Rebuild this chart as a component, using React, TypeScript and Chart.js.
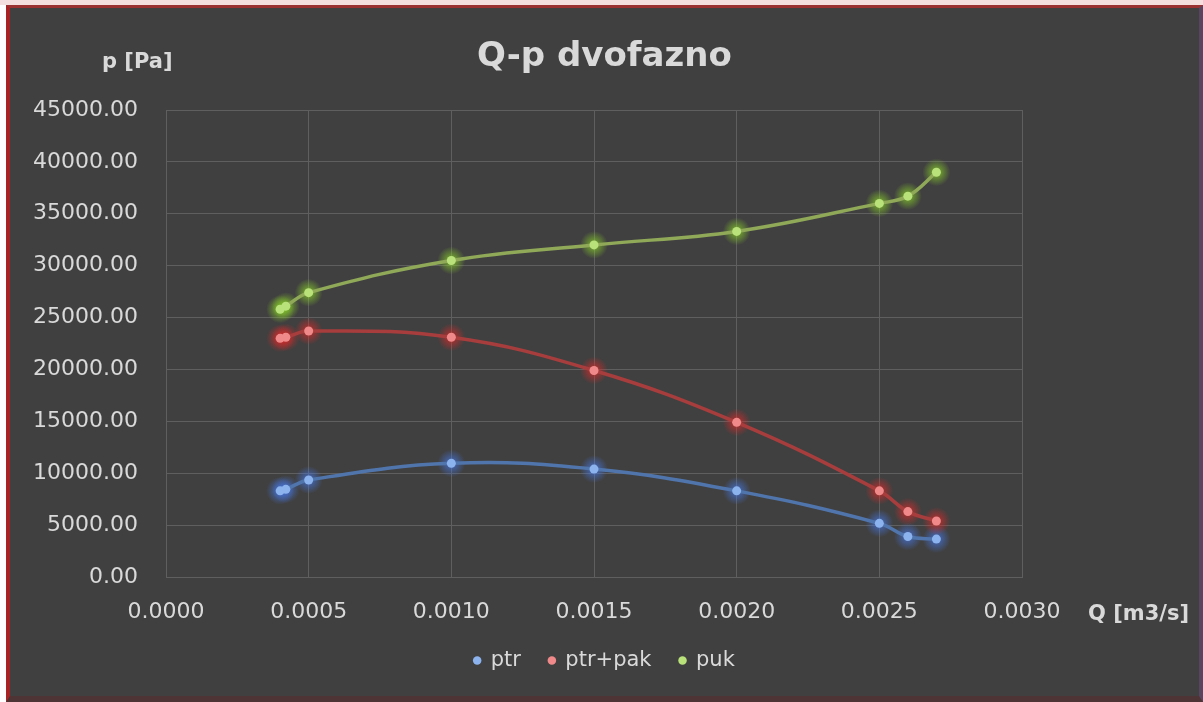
import React, { useEffect, useRef } from "react";
import { Chart, registerables } from "chart.js";

Chart.register(...registerables);

// ---- data ----
const qValues = [0.0004, 0.00042, 0.0005, 0.001, 0.0015, 0.002, 0.0025, 0.0026, 0.0027];
const ptrValues = [8300, 8450, 9350, 10950, 10400, 8300, 5170, 3900, 3650];
const ptrPakValues = [23000, 23100, 23700, 23100, 19900, 14900, 8300, 6300, 5400];
const pukValues = [25800, 26100, 27400, 30500, 32000, 33300, 36000, 36700, 39000];
const seriesNames = ["ptr", "ptr+pak", "puk"];
const chartTitle = "Q-p dvofazno";
const yAxisLabel = "p [Pa]";
const xAxisLabel = "Q [m3/s]";
const xMin = 0;
const xMax = 0.003;
const xStep = 0.0005;
const yMin = 0;
const yMax = 45000;
const yStep = 5000;

// ---- styles ----
const FONT = "DejaVu Sans";
const TEXT = "#d9d9d9";
const GRID = "#5f5f5f";
const BG = "#404040";
const lineColors = ["#5075ac", "#a83d3d", "#8fa958"];
const pointColors = ["#8db3ee", "#f08a8a", "#b9e27a"];
const glowRGB = ["70,120,230", "225,40,40", "140,215,40"];

const series = [ptrValues, ptrPakValues, pukValues];

const decorPlugin = {
  id: "decor",
  beforeDatasetsDraw(chart: any) {
    const ctx = chart.ctx as CanvasRenderingContext2D;
    chart.data.datasets.forEach((_ds: any, i: number) => {
      const meta = chart.getDatasetMeta(i);
      meta.data.forEach((pt: any) => {
        const r = 14;
        const g = ctx.createRadialGradient(pt.x, pt.y, 0, pt.x, pt.y, r);
        g.addColorStop(0, `rgba(${glowRGB[i]},0.8)`);
        g.addColorStop(0.5, `rgba(${glowRGB[i]},0.4)`);
        g.addColorStop(1, `rgba(${glowRGB[i]},0)`);
        ctx.save();
        ctx.fillStyle = g;
        ctx.beginPath();
        ctx.arc(pt.x, pt.y, r, 0, Math.PI * 2);
        ctx.fill();
        ctx.restore();
      });
    });
  },
  afterDraw(chart: any) {
    const ctx = chart.ctx as CanvasRenderingContext2D;
    ctx.save();
    ctx.fillStyle = TEXT;
    ctx.font = `bold 21px "${FONT}"`;
    ctx.textBaseline = "middle";
    ctx.textAlign = "left";
    ctx.fillText(yAxisLabel, 92, 55);
    ctx.fillText(xAxisLabel, 1078, 607);
    ctx.restore();
  },
};

export default function App() {
  const canvasRef = useRef<HTMLCanvasElement | null>(null);

  useEffect(() => {
    if (!canvasRef.current) return;
    const datasets = series.map((vals, i) => ({
      label: seriesNames[i],
      data: qValues.map((q, k) => ({ x: q, y: vals[k] })),
      showLine: true,
      borderColor: lineColors[i],
      backgroundColor: pointColors[i],
      borderWidth: 3.5,
      tension: 0.4,
      pointRadius: 4.5,
      pointBorderWidth: 0,
      pointBackgroundColor: pointColors[i],
      pointStyle: "circle",
    }));

    const chart = new Chart(canvasRef.current, {
      type: "scatter",
      data: { datasets },
      plugins: [decorPlugin],
      options: {
        responsive: false,
        animation: false,
        devicePixelRatio: 1,
        layout: { padding: { left: 0, right: 0, top: 0, bottom: 15 } },
        plugins: {
          title: {
            display: true,
            text: chartTitle,
            color: TEXT,
            font: { family: FONT, size: 34, weight: "bold", lineHeight: 1.2 },
            padding: { top: 29, bottom: 32.2 },
          },
          legend: {
            display: true,
            position: "bottom",
            labels: {
              color: TEXT,
              font: { family: FONT, size: 21 },
              usePointStyle: true,
              pointStyle: "circle",
              boxWidth: 6,
              boxHeight: 6,
              padding: 28,
              generateLabels: (ch: any) =>
                ch.data.datasets.map((ds: any, i: number) => ({
                  text: ds.label,
                  fillStyle: pointColors[i],
                  strokeStyle: pointColors[i],
                  lineWidth: 0,
                  pointStyle: "circle",
                  fontColor: TEXT,
                  datasetIndex: i,
                  hidden: false,
                })),
            },
          },
          tooltip: { enabled: false },
        },
        scales: {
          x: {
            type: "linear",
            min: xMin,
            max: xMax,
            ticks: {
              stepSize: xStep,
              color: TEXT,
              font: { family: FONT, size: 22 },
              padding: 22,
              callback: (v: any) => Number(v).toFixed(4),
            },
            grid: { color: GRID, lineWidth: 1, drawTicks: false },
            border: { display: true, color: GRID, width: 1 },
            afterFit: (scale: any) => {
              scale.height = 45;
              scale.paddingRight = 177;
            },
          },
          y: {
            type: "linear",
            min: yMin,
            max: yMax,
            ticks: {
              stepSize: yStep,
              color: TEXT,
              font: { family: FONT, size: 22 },
              padding: 28,
              callback: (v: any) => Number(v).toFixed(2),
            },
            grid: { color: GRID, lineWidth: 1, drawTicks: false },
            border: { display: true, color: GRID, width: 1 },
            afterFit: (scale: any) => {
              scale.width = 156;
              scale.paddingTop = 0;
              scale.paddingBottom = 0;
            },
          },
        },
      } as any,
    });
    return () => chart.destroy();
  }, []);

  return (
    <div
      style={{
        position: "fixed",
        left: 0,
        top: 0,
        width: 1203,
        height: 702,
        background: "#ffffff",
        overflow: "hidden",
      }}
    >
      <div style={{ position: "absolute", left: 0, top: 0, width: 1203, height: 5, background: "#f4dede" }} />
      <div
        style={{
          position: "absolute",
          left: 6,
          top: 5,
          width: 1197,
          height: 697,
          boxSizing: "border-box",
          borderLeft: "4px solid #a82424",
          borderTop: "3px solid #9a3232",
          borderRight: "4px solid #5a4560",
          borderBottom: "6px solid #4e3434",
          background: BG,
        }}
      >
        <canvas
          ref={canvasRef}
          width={1189}
          height={688}
          style={{ display: "block", width: 1189, height: 688 }}
        />
      </div>
    </div>
  );
}
